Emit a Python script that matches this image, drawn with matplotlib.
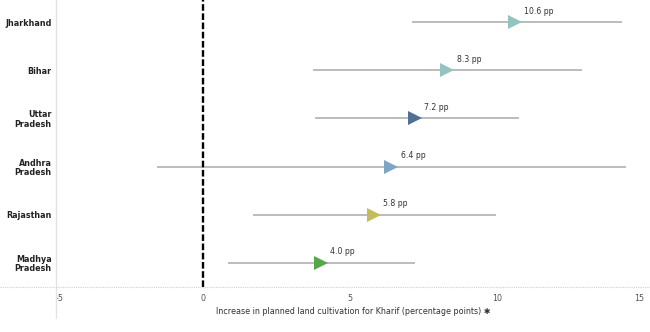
import matplotlib
matplotlib.use("Agg")
import matplotlib.pyplot as plt
from matplotlib.lines import Line2D

states = ["Jharkhand", "Bihar", "Uttar\nPradesh", "Andhra\nPradesh", "Rajasthan", "Madhya\nPradesh"]
values = [10.6, 8.3, 7.2, 6.4, 5.8, 4.0]
low = [7.1, 3.75, 3.8, -1.55, 1.7, 0.85]
high = [14.25, 12.9, 10.75, 14.4, 9.95, 7.2]
colors = ["#93c4c0", "#93c4c0", "#4f6f95", "#7ea5c8", "#c4bb5c", "#58a64c"]
xticks = [-5, 0, 5, 10, 15]
xlabel = "Increase in planned land cultivation for Kharif (percentage points) \u2731"

fig = plt.figure(figsize=(6.5, 3.32), dpi=100)
ax = fig.add_axes([56/650, 1-287/332, 1-56/650, 287/332 - 0.0])

ys = list(range(len(states)))
for y, v, lo, hi, c in zip(ys, values, low, high, colors):
    ax.plot([lo, hi], [y, y], color="#b0b0b0", lw=1.2, zorder=2, solid_capstyle="butt")
    ax.plot([v], [y], marker=">", ms=10, color=c, markeredgewidth=0, zorder=3)
    ax.annotate(f"{v:.1f} pp", (v, y), xytext=(7, 8), textcoords="offset points",
                fontsize=5.6, color="#333333", ha="left", va="center")

ax.axvline(0, color="black", lw=1.7, ls=(0, (2.8, 1.1)), zorder=4)

ax.set_xlim(-5, 15.2)
ax.set_ylim(len(states) - 0.5, -0.46)
ax.set_yticks(ys)
ax.set_yticklabels(states, fontsize=5.8, fontweight="bold", color="#222222", linespacing=1.05)
ax.set_xticks(xticks)
ax.set_xticklabels([str(t) for t in xticks], fontsize=5.8, color="#555555")
ax.get_xticklabels()[0].set_horizontalalignment("left")
ax.get_xticklabels()[-1].set_horizontalalignment("right")
ax.tick_params(axis="both", length=0)
ax.tick_params(axis="x", pad=5)
ax.tick_params(axis="y", pad=3)
ax.set_xlabel(xlabel, fontsize=5.8, color="#333333", labelpad=3)
for s in ax.spines.values():
    s.set_visible(False)

# axis decorations in figure coordinates
fig.add_artist(Line2D([56/650, 56/650], [1-318/332, 1], color="#e3e3e3", lw=1.0, transform=fig.transFigure))
fig.add_artist(Line2D([0, 1], [1-287/332, 1-287/332], color="#d0d0d0", lw=0.8, ls=(0, (1, 1)), transform=fig.transFigure))

fig.savefig("out.png", dpi=100)
